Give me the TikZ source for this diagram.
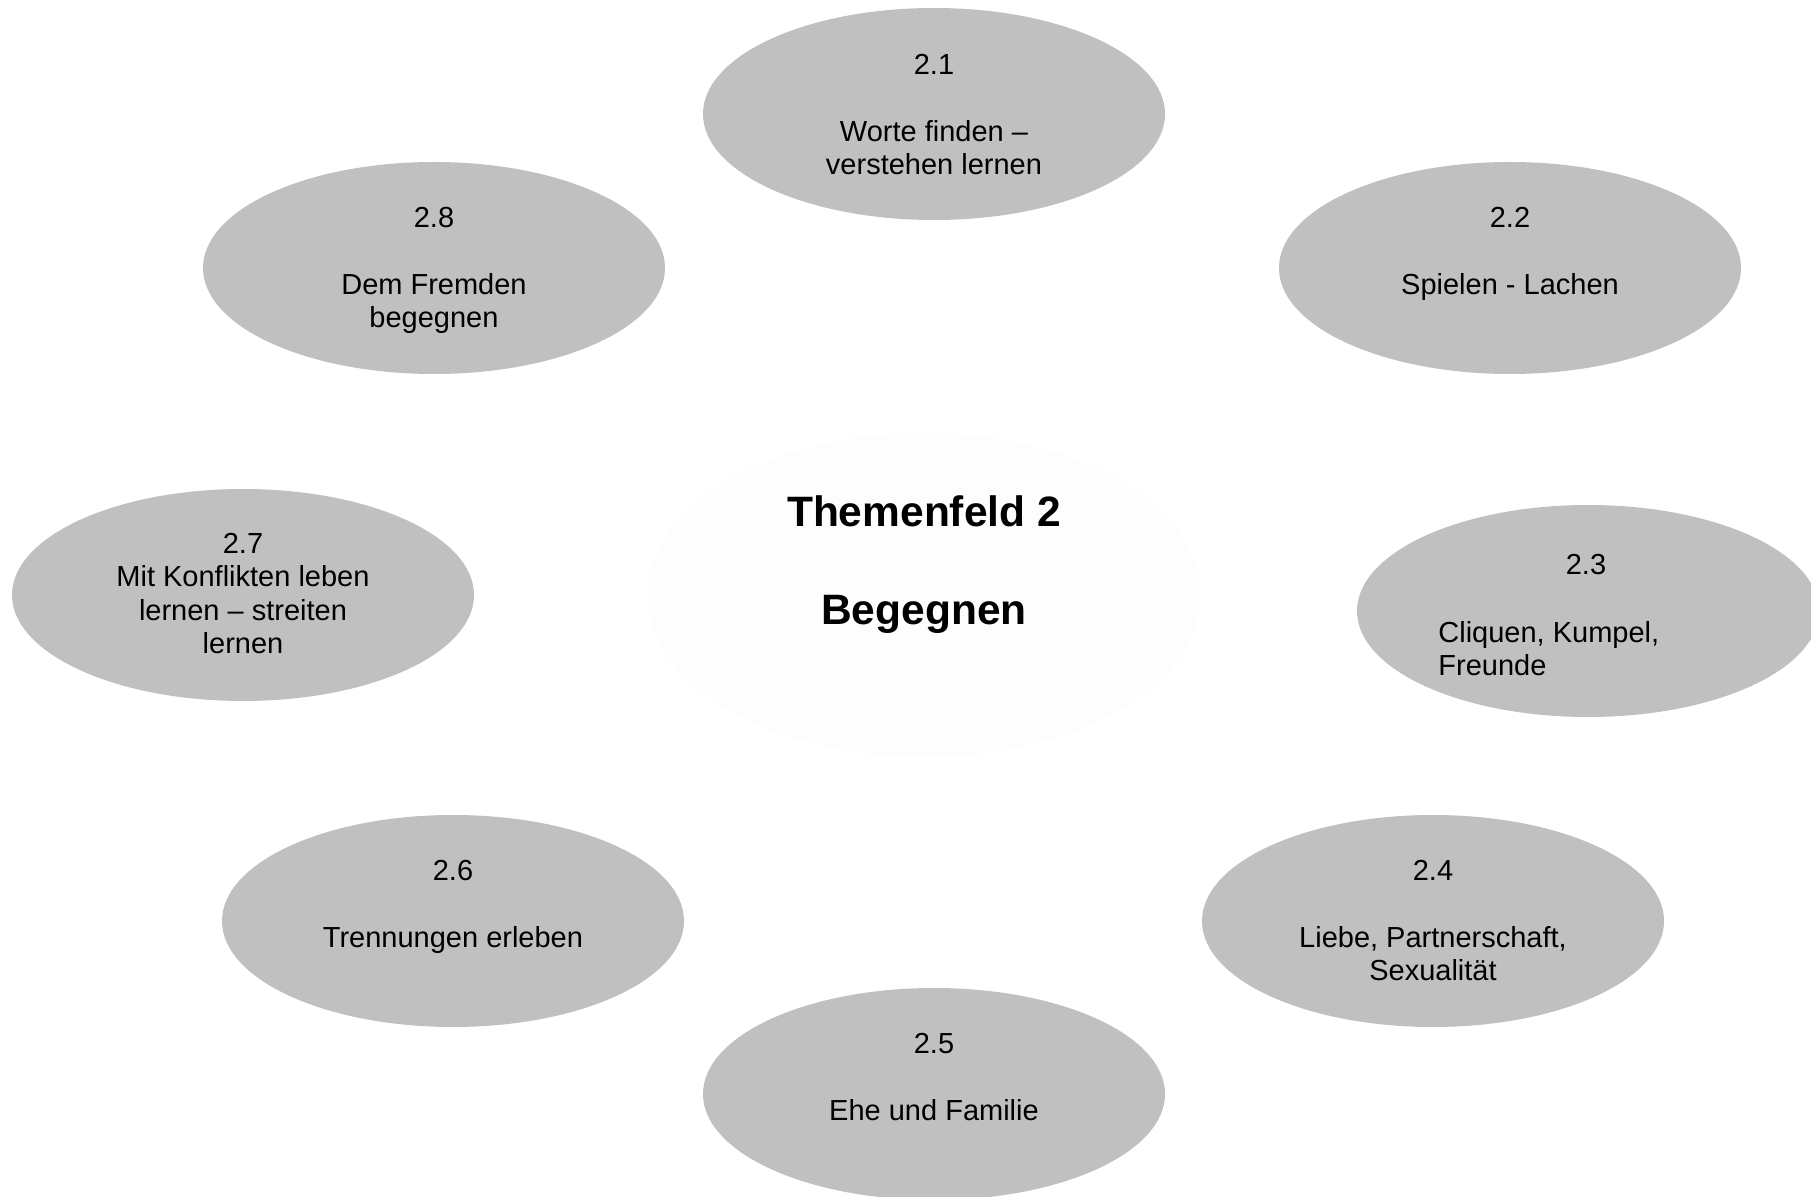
\documentclass[tikz,border=0pt]{standalone}
\usepackage{fontspec}
\setmainfont{Liberation Sans}
\usetikzlibrary{shapes.geometric}
\definecolor{bubgray}{RGB}{192,192,192}
\definecolor{coregray}{RGB}{253,253,253}
\tikzset{
  bub/.style={ellipse, fill=bubgray, draw=none, minimum width=231pt, minimum height=106pt, inner sep=0pt},
  core/.style={ellipse, fill=coregray, draw=none, minimum width=277pt, minimum height=162pt, inner sep=0pt},
  lbl/.style={anchor=north, align=center, inner sep=0pt, font=\fontsize{14.5pt}{16.75pt}\selectfont},
  lbll/.style={anchor=north west, align=left, inner sep=0pt, font=\fontsize{14.5pt}{16.75pt}\selectfont},
  ttl/.style={anchor=north, align=center, inner sep=0pt, font=\bfseries\fontsize{21.25pt}{24.5pt}\selectfont}
}
\begin{document}
\begin{tikzpicture}[x=0.5pt, y=-0.5pt]
\useasboundingbox (0,0) rectangle (1811,1197);
\clip (0,0) rectangle (1811,1197);
\fill[white] (0,0) rectangle (1811,1197);
% central ellipse
\node[core] (core) at (924,595) {};
\node[ttl] (title) at (924,495) {Themenfeld 2\\[24.5pt]Begegnen};
% outer ellipses
\node[bub] (e21) at (934,114) {};
\node[bub] (e22) at (1510,268) {};
\node[bub] (e23) at (1588,611) {};
\node[bub] (e24) at (1433,921) {};
\node[bub] (e25) at (934,1094) {};
\node[bub] (e26) at (453,921) {};
\node[bub] (e27) at (243,595) {};
\node[bub] (e28) at (434,268) {};
% texts
\node[lbl] (t21) at (934,53.6) {2.1\\[16.75pt]Worte finden –\\verstehen lernen};
\node[lbl] (t22) at (1510,206.6) {2.2\\[16.75pt]Spielen - Lachen};
\node[lbl] (t23a) at (1586,553.6) {2.3};
\node[lbll] (t23b) at (1438,620.6) {Cliquen, Kumpel,\\Freunde};
\node[lbl] (t24) at (1433,859.6) {2.4\\[16.75pt]Liebe, Partnerschaft,\\Sexualität};
\node[lbl] (t25) at (934,1032.6) {2.5\\[16.75pt]Ehe und Familie};
\node[lbl] (t26) at (453,859.6) {2.6\\[16.75pt]Trennungen erleben};
\node[lbl] (t27) at (243,532.6) {2.7\\Mit Konflikten leben\\lernen – streiten\\lernen};
\node[lbl] (t28) at (434,206.6) {2.8\\[16.75pt]Dem Fremden\\begegnen};
\end{tikzpicture}
\end{document}
